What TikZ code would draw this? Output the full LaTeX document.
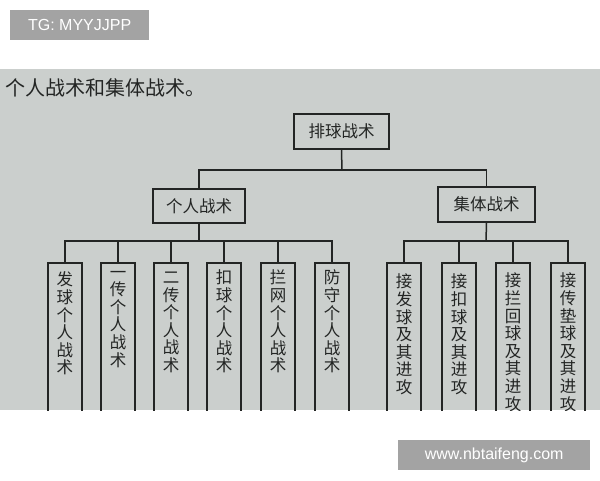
\documentclass[tikz,border=0pt]{standalone}
\usepackage{fontspec}
\setmainfont{Liberation Sans}
\newfontfamily\cjk{Noto Sans CJK SC}
\definecolor{photo}{RGB}{203,207,205}
\definecolor{ink}{RGB}{35,37,36}
\definecolor{tag}{RGB}{163,163,163}
\newcommand{\vcol}[2]{\parbox[c][170pt][t]{34pt}{\centering\vspace*{#1}#2}}
\begin{document}
\begin{tikzpicture}[x=1pt,y=-1pt,
  tagbox/.style={fill=tag,text=white,font=\fontsize{16}{18}\selectfont,anchor=west,inner xsep=5pt,minimum height=30pt},
  headbox/.style={draw=ink,line width=2pt,text=ink,font=\cjk\fontsize{16.5}{18}\selectfont,minimum height=35pt,inner sep=0pt},
  colbox/.style={draw=ink,line width=2pt,text=ink,anchor=north,inner sep=0pt,minimum width=34pt,font=\cjk\fontsize{16.5}{17.6}\selectfont},
  link/.style={draw=ink,line width=1.5pt}]
\useasboundingbox (0,0) rectangle (600,480);
\fill[white] (0,0) rectangle (600,480);
\fill[photo] (0,69) rectangle (600,410);
\node[tagbox,minimum width=139pt] (tg) at (10,25) {TG: MYYJJPP};
\node[tagbox,minimum width=192pt] (web) at (398,455) {www.nbtaifeng.com};
\begin{scope}
\clip (0,69) rectangle (600,410);
\node[anchor=west,text=ink,font=\cjk\fontsize{20}{22}\selectfont,inner sep=0pt] (title) at (5,88) {个人战术和集体战术。};
\node[headbox,minimum width=95pt] (top) at (341.5,131.5) {排球战术};
\node[headbox,minimum width=92pt,minimum height=34pt] (ind) at (199,206) {个人战术};
\node[headbox,minimum width=97pt,minimum height=35pt] (grp) at (486.5,204.5) {集体战术};
\node[colbox] (c1) at (65,262) {\vcol{9pt}{发\\球\\个\\人\\战\\术}};
\node[colbox] (c2) at (118,262) {\vcol{8pt}{一\\传\\个\\人\\战\\术}};
\node[colbox] (c3) at (171,262) {\vcol{9pt}{二\\传\\个\\人\\战\\术}};
\node[colbox] (c4) at (224,262) {\vcol{7pt}{扣\\球\\个\\人\\战\\术}};
\node[colbox] (c5) at (278,262) {\vcol{7pt}{拦\\网\\个\\人\\战\\术}};
\node[colbox] (c6) at (332,262) {\vcol{7pt}{防\\守\\个\\人\\战\\术}};
\node[colbox] (d1) at (404,262) {\vcol{11pt}{接\\发\\球\\及\\其\\进\\攻}};
\node[colbox] (d2) at (459,262) {\vcol{11pt}{接\\扣\\球\\及\\其\\进\\攻}};
\node[colbox] (d3) at (513,262) {\vcol{10pt}{接\\拦\\回\\球\\及\\其\\进\\攻}};
\node[colbox] (d4) at (568,262) {\vcol{10pt}{接\\传\\垫\\球\\及\\其\\进\\攻}};
\coordinate (bus0) at (342,170);
\coordinate (bus1) at (199,241);
\coordinate (bus2) at (486,241);
\draw[link] (top.south) -- (bus0);
\draw[link] (ind.north) |- (bus0) -| (grp.north);
\draw[link] (ind.south) -- (bus1);
\draw[link] (c1.north) |- (bus1) -| (c6.north);
\foreach \n in {c2,c3,c4,c5} \draw[link] (\n.north) -- (\n.north |- bus1);
\draw[link] (grp.south) -- (bus2);
\draw[link] (d1.north) |- (bus2) -| (d4.north);
\foreach \n in {d2,d3} \draw[link] (\n.north) -- (\n.north |- bus2);
\end{scope}
\end{tikzpicture}
\end{document}
